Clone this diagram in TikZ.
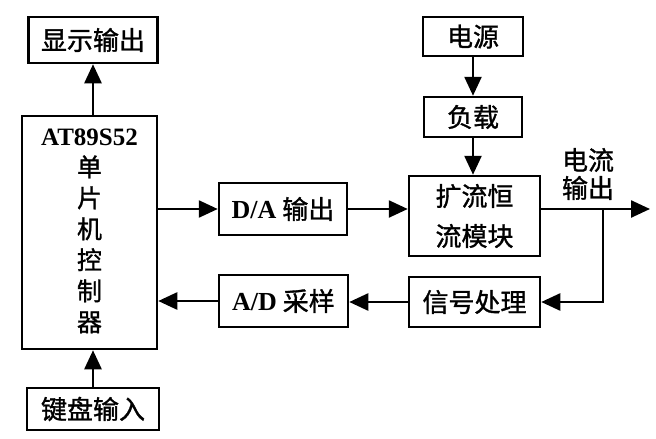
\documentclass[tikz,border=0pt]{standalone}
\usepackage{fontspec}
\setmainfont{Liberation Serif}
\newfontfamily\cjk{Noto Sans CJK SC}[FakeBold=1.2]
\newcommand{\lat}[1]{{\normalfont\bfseries #1}}
\usetikzlibrary{arrows.meta}
\begin{document}
\begin{tikzpicture}[x=1pt,y=-1pt,
  box/.style={draw, line width=2.5pt, inner sep=0pt, align=center,
    font=\fontsize{26}{40}\selectfont\cjk},
  txt/.style={inner sep=0pt, align=center},
  arr/.style={line width=2.5pt, -{Triangle[length=19pt,width=17pt]}},
  ln/.style={line width=2.5pt}]
\useasboundingbox (0,0) rectangle (656,439);
\node[box, minimum width=129, minimum height=46] (disp) at (93,40) {显示输出};
\node[box, minimum width=135, minimum height=233] (mcu) at (89.5,232.5) {};
\node[txt, font=\fontsize{25}{31}\selectfont\cjk] (mcutext) at (89.5,231) {\lat{AT89S52}\\单\\片\\机\\控\\制\\器};
\node[box, minimum width=132, minimum height=42] (kbd) at (93,409) {键盘输入};
\node[box, minimum width=128, minimum height=52] (da) at (283,209) {\lat{D/A} 输出};
\node[box, minimum width=129, minimum height=52] (ad) at (283.5,301) {\lat{A/D} 采样};
\node[box, minimum width=131, minimum height=80] (amp) at (474.5,216) {扩流恒\\流模块};
\node[box, minimum width=131, minimum height=50] (sig) at (474.5,302) {信号处理};
\node[box, minimum width=100, minimum height=39] (pwr) at (473,36.5) {电源};
\node[box, minimum width=98, minimum height=40] (load) at (473,117) {负载};
\node[txt, font=\fontsize{26}{28}\selectfont\cjk] (outlbl) at (588,174) {电流\\输出};
\coordinate (out) at (650,209);
\coordinate (br) at (603,209);
\draw[arr] (mcu.north -| disp.south) -- (disp.south);
\draw[arr] (kbd.north) -- (kbd.north |- mcu.south);
\draw[arr] (da.west -| mcu.east) -- (da.west);
\draw[arr] (da.east) -- (da.east -| amp.west);
\draw[arr] (pwr.south) -- (load.north);
\draw[arr] (load.south) -- (load.south |- amp.north);
\draw[arr] (da.east -| amp.east) -- (out);
\draw[arr] (br) |- (sig.east);
\draw[arr] (sig.west) -- (sig.west -| ad.east);
\draw[arr] (ad.west) -- (ad.west -| mcu.east);
\end{tikzpicture}
\end{document}
